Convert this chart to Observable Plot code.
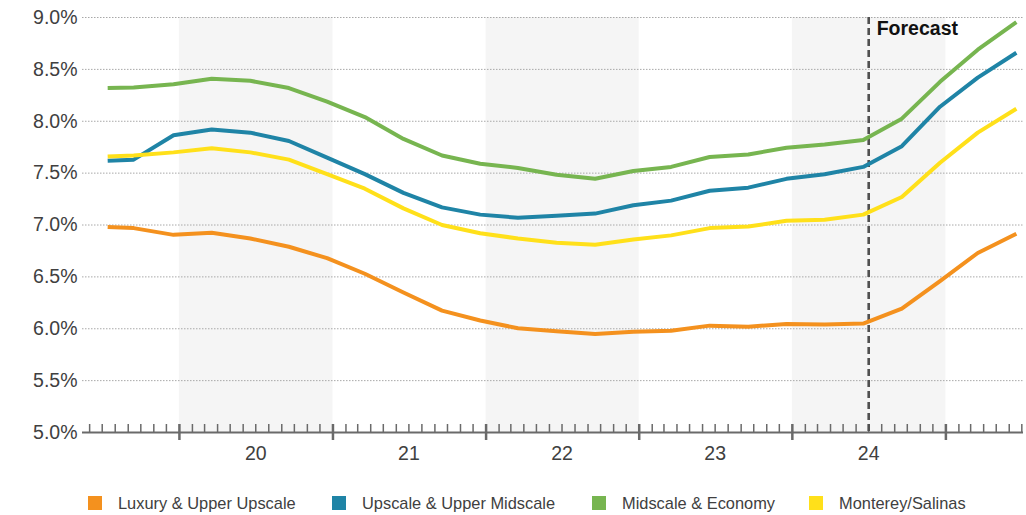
<!DOCTYPE html>
<html>
<head>
<meta charset="utf-8">
<script src="https://cdn.jsdelivr.net/npm/d3@7"></script>
<script src="https://cdn.jsdelivr.net/npm/@observablehq/plot@0.6"></script>
<style>
  html, body { margin: 0; padding: 0; background: #fff; }
  #chart { width: 1026px; }
  .legend { position: relative; width: 1026px; height: 40px; font-family: "Liberation Sans", Arial, sans-serif; font-size: 16.4px; color: #404040; }
  .legend .item { position: absolute; top: 20px; display: flex; align-items: center; height: 16px; white-space: nowrap; }
  .legend .sw { width: 14px; height: 14px; margin-right: 16px; }
</style>
</head>
<body>
<div id="chart"></div>
<script>
// ---- data ----
const dates = ["2019-07-14","2019-09-14","2019-12-18","2020-03-18","2020-06-18","2020-09-18","2020-12-18",
  "2021-03-18","2021-06-18","2021-09-18","2021-12-18","2022-03-18","2022-06-18","2022-09-18","2022-12-18",
  "2023-03-18","2023-06-18","2023-09-18","2023-12-18","2024-03-18","2024-06-18","2024-09-18","2024-12-18",
  "2025-03-18","2025-06-18"];
const seriesNames = ["Luxury & Upper Upscale", "Upscale & Upper Midscale", "Midscale & Economy", "Monterey/Salinas"];
const seriesColors = ["#f4911e", "#1f84a6", "#77b550", "#ffe01a"];
const luxury   = [6.98,6.97,6.905,6.925,6.87,6.79,6.68,6.53,6.35,6.175,6.08,6.005,5.975,5.95,5.97,5.98,6.03,6.02,6.045,6.04,6.05,6.195,6.46,6.73,6.915];
const upscale  = [7.62,7.63,7.865,7.92,7.89,7.81,7.65,7.49,7.31,7.17,7.10,7.07,7.09,7.11,7.19,7.235,7.33,7.36,7.445,7.49,7.56,7.76,8.14,8.42,8.66];
const midscale = [8.32,8.325,8.356,8.41,8.39,8.32,8.19,8.04,7.83,7.67,7.59,7.55,7.485,7.445,7.52,7.56,7.655,7.68,7.745,7.775,7.82,8.025,8.38,8.69,8.955];
const monterey = [7.66,7.67,7.70,7.74,7.70,7.63,7.49,7.35,7.16,7.00,6.92,6.87,6.83,6.81,6.86,6.90,6.97,6.985,7.04,7.05,7.10,7.27,7.60,7.89,8.12];
const yTicks = [5.0,5.5,6.0,6.5,7.0,7.5,8.0,8.5,9.0];
const yearLabels = [2020,2021,2022,2023,2024];
const shadedYears = [2020,2022,2024];
const majorYears = [2020,2021,2022,2023,2024,2025];
const forecastStart = "2024-07-01";
const forecastLabel = "Forecast";
const xDomain = ["2019-05-15","2025-07-05"];

// ---- build ----
const parse = s => new Date(s + "T00:00:00Z");
const allSeries = [luxury, upscale, midscale, monterey];
const rows = [];
allSeries.forEach((vals, i) => vals.forEach((v, j) => rows.push({date: parse(dates[j]), value: v, series: seriesNames[i]})));
const start = parse(xDomain[0]), end = parse(xDomain[1]);
const months = d3.utcMonth.range(d3.utcMonth.ceil(start), end).filter(d => d.getUTCMonth() !== 0);
const majors = majorYears.map(y => new Date(Date.UTC(y, 0, 1)));
const labelDates = yearLabels.map(y => new Date(Date.UTC(y, 6, 1)));
const font = '"Liberation Sans", Arial, sans-serif';

const chart = Plot.plot({
  width: 1026,
  height: 475,
  marginLeft: 82,
  marginRight: 3,
  marginTop: 17,
  marginBottom: 43,
  style: {fontFamily: font, fontSize: "19.5px", color: "#404040", background: "#fff", overflow: "visible"},
  x: {type: "utc", domain: [start, end]},
  y: {domain: [5, 9]},
  color: {domain: seriesNames, range: seriesColors},
  marks: [
    Plot.rect(shadedYears, {x1: d => new Date(Date.UTC(d, 0, 1)), x2: d => new Date(Date.UTC(d + 1, 0, 1)), fill: "#f5f5f5"}),
    Plot.gridY(yTicks.filter(d => d > 5), {stroke: "#a8a8a8", strokeOpacity: 1, strokeDasharray: "1.5,1.5", strokeWidth: 1}),
    Plot.axisY(yTicks, {tickSize: 0, tickPadding: 5, tickFormat: d => d.toFixed(1) + "%", label: null, fontSize: 19.5}),
    Plot.ruleY([5], {stroke: "#6a6a6a", strokeWidth: 2}),
    Plot.tickX(months, {x: d => d, stroke: "#6a6a6a", strokeWidth: 1.5, insetTop: 407}),
    Plot.tickX(majors, {x: d => d, stroke: "#6a6a6a", strokeWidth: 2.5, insetTop: 407, insetBottom: -8}),
    Plot.axisX(labelDates, {tickSize: 0, tickPadding: 14, tickFormat: d3.utcFormat("%y"), label: null, fontSize: 19.5}),
    Plot.ruleX([parse(forecastStart)], {stroke: "#505050", strokeWidth: 2.6, strokeDasharray: "7,4"}),
    Plot.text([parse(forecastStart)], {x: d => d, text: () => forecastLabel, frameAnchor: "top", lineAnchor: "top", textAnchor: "start", dx: 8, dy: 4, fontWeight: "bold", fontSize: 19.5, fill: "#111"}),
    Plot.line(rows, {x: "date", y: "value", z: "series", stroke: "series", strokeWidth: 4, strokeLinejoin: "round", strokeLinecap: "butt"})
  ]
});
document.getElementById("chart").appendChild(chart);

// legend
const legendLefts = [88, 332, 592, 809];
const legend = document.createElement("div");
legend.className = "legend";
seriesNames.forEach((name, i) => {
  const item = document.createElement("div");
  item.className = "item";
  item.style.left = legendLefts[i] + "px";
  const sw = document.createElement("span");
  sw.className = "sw";
  sw.style.background = seriesColors[i];
  const tx = document.createElement("span");
  tx.textContent = name;
  item.appendChild(sw);
  item.appendChild(tx);
  legend.appendChild(item);
});
document.body.appendChild(legend);
</script>
</body>
</html>
